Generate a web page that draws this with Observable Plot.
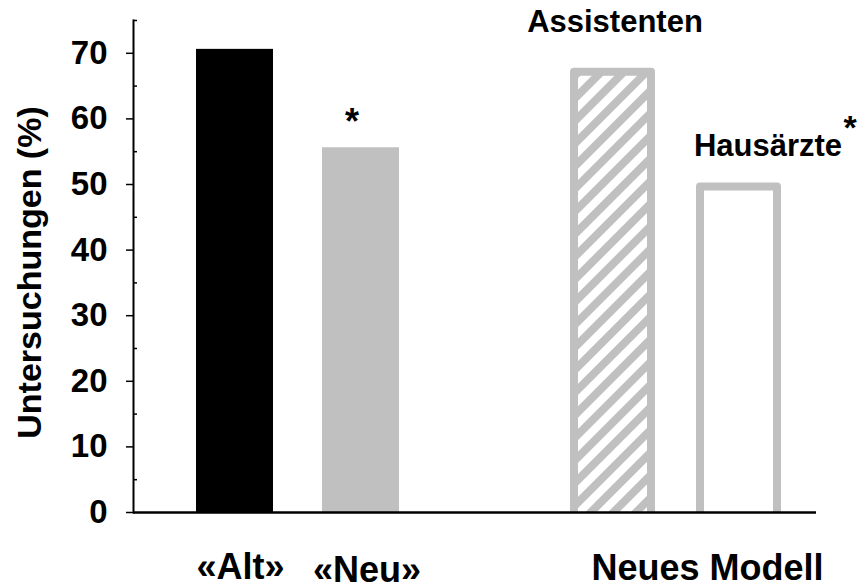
<!DOCTYPE html>
<html>
<head>
<meta charset="utf-8">
<script src="https://cdn.jsdelivr.net/npm/d3@7"></script>
<script src="https://cdn.jsdelivr.net/npm/@observablehq/plot@0.6"></script>
<style>
  html, body { margin: 0; padding: 0; background: #fff; }
  svg { overflow: visible; font-family: "Liberation Sans", Arial, sans-serif; }
</style>
</head>
<body>
<div id="chart"></div>
<script>
// ---- data ----
const slots = ["Alt", "Neu", " ", "Assistenten", "Hausärzte"];
const barKeys = ["Alt", "Neu", "Assistenten", "Hausärzte"];
const barValues = [70.6, 55.6, 67.1, 49.6];
const groupLabels = ["«Alt»", "«Neu»", "Neues Modell"];
const groupAnchors = ["Alt", "Neu", "Hausärzte"];
const noteLabels = ["Assistenten", "Hausärzte"];
const starKeys = ["Neu", "Hausärzte"];
const majorTicks = [0, 10, 20, 30, 40, 50, 60, 70];
const minorTicks = [5, 15, 25, 35, 45, 55, 65, 75];
const yLabel = "Untersuchungen (%)";

const bars = barKeys.map((k, i) => ({key: k, value: barValues[i]}));
const valueOf = Object.fromEntries(bars.map(d => [d.key, d.value]));
const notes = noteLabels.map(k => ({key: k, value: valueOf[k]}));
const stars = starKeys.map(k => ({key: k, value: valueOf[k]}));
const groups = groupLabels.map((t, i) => ({label: t, key: groupAnchors[i]}));

const font = {fontFamily: "Liberation Sans, Arial, sans-serif", fontWeight: "bold", fill: "black"};
const only = k => d => d.key === k;

const plot = Plot.plot({
  width: 868,
  height: 588,
  marginTop: 20,
  marginBottom: 76,
  marginLeft: 133,
  marginRight: 52,
  x: {type: "band", domain: slots, paddingInner: 0.39, paddingOuter: 0.397, align: 0.618, axis: null},
  y: {domain: [0, 75], axis: null},
  marks: [
    Plot.barY(bars.filter(only("Alt")), {x: "key", y: "value", fill: "black"}),
    Plot.barY(bars.filter(only("Neu")), {x: "key", y: "value", fill: "#c0c0c0"}),
    Plot.barY(bars.filter(only("Assistenten")), {x: "key", y: "value", fill: "url(#hatch)", stroke: "#c0c0c0", strokeWidth: 8, strokeLinejoin: "round", insetBottom: -6, clip: true}),
    Plot.barY(bars.filter(only("Hausärzte")), {x: "key", y: "value", fill: "white", stroke: "#c0c0c0", strokeWidth: 8, strokeLinejoin: "round", insetBottom: -6, clip: true}),
    Plot.ruleY([0], {stroke: "black", strokeWidth: 2.5}),
    Plot.frame({anchor: "left", stroke: "black", strokeWidth: 2}),
    Plot.axisY(majorTicks, {tickSize: 7, tickPadding: 19, strokeWidth: 1.5, fontSize: 33, fontWeight: "bold", label: null, tickFormat: d => String(d)}),
    Plot.axisY(minorTicks, {tickSize: 4, dx: 4, strokeWidth: 1.5, tickFormat: () => "", label: null}),
    Plot.text([yLabel], {frameAnchor: "left", textAnchor: "middle", rotate: -90, dx: -103, dy: 6, fontSize: 34, ...font}),
    Plot.text(notes.filter(only("Assistenten")), {x: "key", y: "value", text: "key", lineAnchor: "bottom", dx: 2, dy: -40, fontSize: 31, ...font}),
    Plot.text(notes.filter(only("Hausärzte")), {x: "key", y: "value", text: "key", lineAnchor: "bottom", dx: 29, dy: -31, fontSize: 31, ...font}),
    Plot.text(stars.filter(only("Neu")), {x: "key", y: "value", text: () => "*", lineAnchor: "bottom", dx: -9, dy: -14, fontSize: 36, ...font}),
    Plot.text(stars.filter(only("Hausärzte")), {x: "key", y: "value", text: () => "*", lineAnchor: "bottom", dx: 111, dy: -48, fontSize: 34, ...font}),
    Plot.text(groups.filter(d => d.key === "Alt"), {x: "key", text: "label", frameAnchor: "bottom", lineAnchor: "bottom", dx: 5.5, dy: 66, fontSize: 36, ...font}),
    Plot.text(groups.filter(d => d.key === "Neu"), {x: "key", text: "label", frameAnchor: "bottom", lineAnchor: "bottom", dx: 6, dy: 69, fontSize: 36, ...font}),
    Plot.text(groups.filter(d => d.key === "Hausärzte"), {x: "key", text: "label", frameAnchor: "bottom", lineAnchor: "bottom", dx: -31.5, dy: 67, fontSize: 36, ...font})
  ]
});

const defs = d3.select(plot).insert("defs", ":first-child");
const pat = defs.append("pattern")
  .attr("id", "hatch")
  .attr("patternUnits", "userSpaceOnUse")
  .attr("width", 16).attr("height", 16)
  .attr("patternTransform", "rotate(45)");
pat.append("rect").attr("width", 16).attr("height", 16).attr("fill", "#c0c0c0");
pat.append("rect").attr("width", 8).attr("height", 16).attr("fill", "white");

document.getElementById("chart").append(plot);
</script>
</body>
</html>
